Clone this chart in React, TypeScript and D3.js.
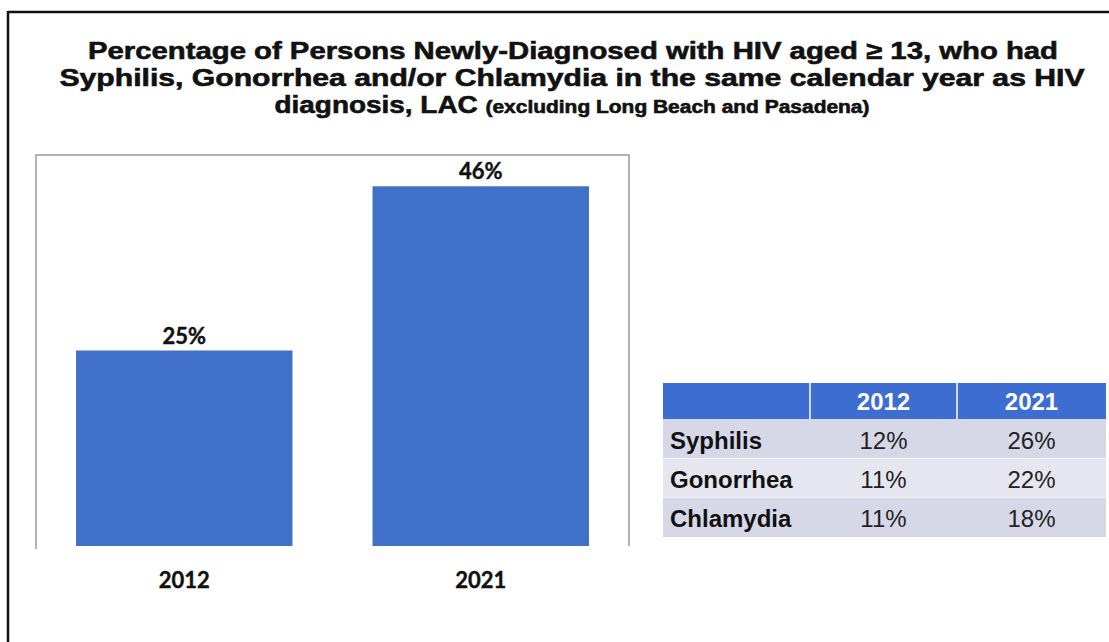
import React from "react";
import * as d3 from "d3";

const titleLines = [
  "Percentage of Persons Newly-Diagnosed with HIV aged ≥ 13, who had",
  "Syphilis, Gonorrhea and/or Chlamydia in the same calendar year as HIV",
];
const titleLine3Main = "diagnosis, LAC ";
const titleLine3Small = "(excluding Long Beach and Pasadena)";

const years = ["2012", "2021"];
const overallPct = [25, 46];

const tableDiseases = ["Syphilis", "Gonorrhea", "Chlamydia"];
const table2012 = [12, 11, 11];
const table2021 = [26, 22, 18];

const W = 1109;
const H = 642;

export default function App() {
  const x = d3.scaleBand<string>().domain(years).range([36, 629]).paddingInner(0.27).paddingOuter(0.135);
  const y = d3.scaleLinear().domain([0, 50]).range([546, 155]);

  // table layout
  const colEdges = [663, 810, 957, 1106];
  const headerTop = 383;
  const headerBottom = 419;
  const rowScale = d3.scaleBand<string>().domain(tableDiseases).range([headerBottom, 537]);
  const rowFills = ["#d7d8e7", "#e6e6f0", "#d7d8e7"];
  const colValues = [table2012, table2021];

  return (
    <svg width={W} height={H} style={{ position: "absolute", left: 0, top: 0, background: "#fff" }}>
      <rect x={0} y={0} width={W} height={H} fill="#fff" />
      {/* outer frame */}
      <line x1={8} y1={12} x2={W} y2={12} stroke="#111" strokeWidth={2.5} />
      <line x1={8} y1={11} x2={8} y2={H} stroke="#111" strokeWidth={2.5} />

      {/* title */}
      <g fontFamily="'Liberation Sans', Arial, sans-serif" fontWeight="bold" fill="#111" textAnchor="middle" stroke="#111" strokeWidth={0.6}>
        <text x={573} y={59} fontSize={24} textLength={970} lengthAdjust="spacingAndGlyphs">{titleLines[0]}</text>
        <text x={572} y={86} fontSize={24} textLength={1025} lengthAdjust="spacingAndGlyphs">{titleLines[1]}</text>
        <text x={572} y={113} textLength={595} lengthAdjust="spacingAndGlyphs">
          <tspan fontSize={24}>{titleLine3Main}</tspan>
          <tspan fontSize={18}>{titleLine3Small}</tspan>
        </text>
      </g>

      {/* plot box (left, top, right) */}
      <path d={`M36,549 L36,155 L629,155 L629,546`} fill="none" stroke="#9a9a9a" strokeWidth={1.5} />

      {/* bars */}
      {years.map((yr, i) => (
        <rect
          key={yr}
          x={x(yr)}
          y={y(overallPct[i])}
          width={x.bandwidth()}
          height={y(0) - y(overallPct[i])}
          fill="#4170c8"
        />
      ))}
      <g fontFamily="Lato, 'Open Sans', sans-serif" fontWeight="bold" fill="#111" textAnchor="middle" fontSize={22} stroke="#111" strokeWidth={0.4}>
        {years.map((yr, i) => (
          <text key={"l" + yr} x={(x(yr) as number) + x.bandwidth() / 2} y={y(overallPct[i]) - 7}>
            {overallPct[i]}%
          </text>
        ))}
        {years.map((yr) => (
          <text key={"a" + yr} x={(x(yr) as number) + x.bandwidth() / 2} y={588}>
            {yr}
          </text>
        ))}
      </g>

      {/* table */}
      <rect x={colEdges[0]} y={headerTop} width={colEdges[3] - colEdges[0]} height={headerBottom - headerTop} fill="#3d6dd0" />
      {tableDiseases.map((d, i) => (
        <rect
          key={"bg" + d}
          x={colEdges[0]}
          y={rowScale(d)}
          width={colEdges[3] - colEdges[0]}
          height={rowScale.bandwidth()}
          fill={rowFills[i]}
        />
      ))}
      {[1, 2].map((k) => (
        <line key={"sep" + k} x1={colEdges[k]} y1={headerTop} x2={colEdges[k]} y2={headerBottom} stroke="#fff" strokeWidth={1.5} />
      ))}
      {tableDiseases.slice(1).map((d) => (
        <line key={"hs" + d} x1={colEdges[0]} y1={rowScale(d)} x2={colEdges[3]} y2={rowScale(d)} stroke="#f2f2f7" strokeWidth={1} />
      ))}
      <g fontFamily="'Liberation Sans', Arial, sans-serif" fontSize={24}>
        {years.map((yr, k) => (
          <text
            key={"h" + yr}
            x={(colEdges[k + 1] + colEdges[k + 2]) / 2}
            y={(headerTop + headerBottom) / 2 + 9}
            textAnchor="middle"
            fill="#fff"
            fontWeight="bold"
          >
            {yr}
          </text>
        ))}
        {tableDiseases.map((d) => (
          <text key={"r" + d} x={670} y={(rowScale(d) as number) + rowScale.bandwidth() / 2 + 10} fill="#111" fontWeight="bold">
            {d}
          </text>
        ))}
        {colValues.map((vals, k) =>
          tableDiseases.map((d, i) => (
            <text
              key={"v" + k + d}
              x={(colEdges[k + 1] + colEdges[k + 2]) / 2}
              y={(rowScale(d) as number) + rowScale.bandwidth() / 2 + 10}
              textAnchor="middle"
              fill="#222"
            >
              {vals[i]}%
            </text>
          ))
        )}
      </g>
    </svg>
  );
}
